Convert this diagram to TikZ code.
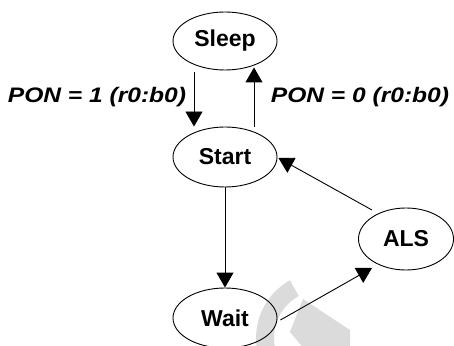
\documentclass[tikz,border=0pt]{standalone}
\usepackage{fontspec}
\setmainfont{Liberation Sans}
\usetikzlibrary{shapes.geometric,arrows.meta,calc}
\begin{document}
\begin{tikzpicture}[x=1pt,y=1pt,
  state/.style={draw,ellipse,line width=0.9pt,inner sep=0pt,minimum width=104pt,minimum height=58pt,
     font=\fontsize{23}{24}\selectfont\bfseries},
  arr/.style={line width=0.9pt,-{Triangle[width=17pt,length=15pt]}},
  lbl/.style={font=\fontsize{21}{22}\selectfont\bfseries\itshape,inner sep=0pt},
  wm/.style={fill=black!14}]
\useasboundingbox (0,0) rectangle (454,345);
\begin{scope}
\clip (0,0) rectangle (454,345);
% watermark
\coordinate (wc) at (322,7);
\fill[wm] ($(wc)+(119:66)$) arc[start angle=119,end angle=200,radius=66]
   -- ($(wc)+(200:48)$) arc[start angle=200,end angle=119,radius=48] -- cycle;
\fill[wm] (303,46) -- (350,15) -- (350,-5) -- (305,-5) -- (290,13) -- cycle;
\end{scope}
\node[state] (sleep) at (225,304) {Sleep};
\node[state,minimum height=60pt] (start) at (225,188) {Start};
\node[state,minimum height=60pt] (wait) at (225,27) {Wait};
\node[state,minimum width=95pt,minimum height=62pt] (als) at (406,106) {ALS};
\node[lbl] (l1) at (97,248) {\scalebox{1.17}[1]{PON = 1 (r0:b0)}};
\node[lbl] (l0) at (360,248) {\scalebox{1.17}[1]{PON = 0 (r0:b0)}};
\draw[arr] ([xshift=-31pt,yshift=-2pt]sleep.south) -- ([xshift=-31pt]start.north);
\draw[arr] ([xshift=29pt]start.north) -- ([xshift=29pt,yshift=3pt]sleep.south);
\draw[arr] (start.south) -- (wait.north);
\draw[arr] ([shift={(3,-2)}]wait.east) -- ([shift={(-34,-29)}]als.center);
\draw[arr] ([shift={(-34,29)}]als.center) -- ([shift={(1,-1)}]start.east);
\end{tikzpicture}
\end{document}
